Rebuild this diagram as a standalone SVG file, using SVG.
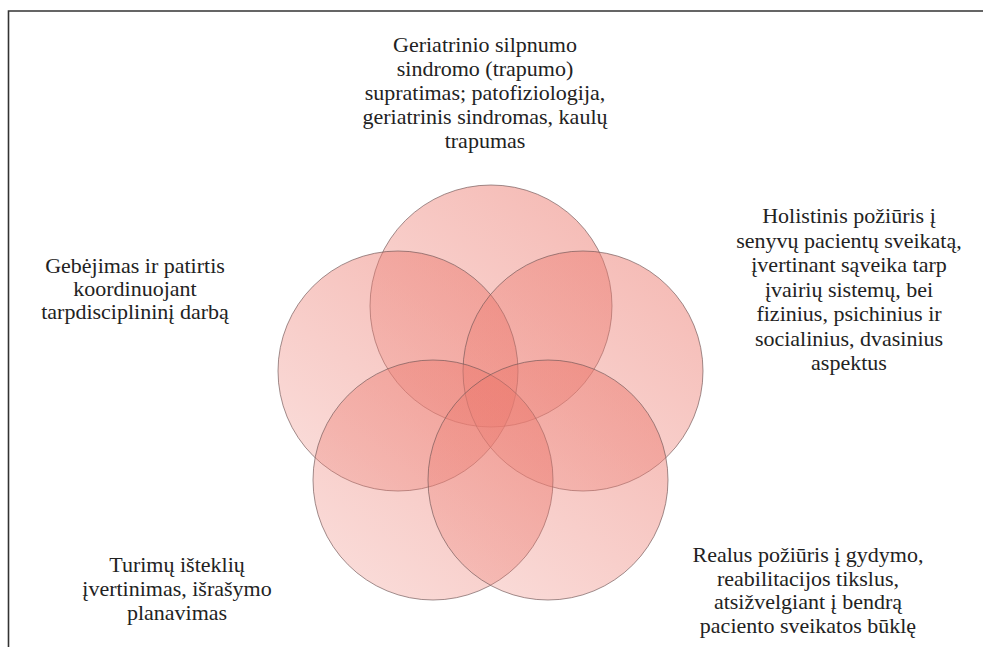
<svg xmlns="http://www.w3.org/2000/svg" width="983" height="647" viewBox="0 0 983 647">
<style>
.lbl{font-family:"Liberation Serif",Tinos,"Noto Serif","FreeSerif","DejaVu Serif",Times,"Times New Roman",serif;font-size:22px;fill:#222;text-anchor:middle}
.c{fill:url(#g);stroke:#6e5555;stroke-opacity:.65;stroke-width:1}
.frame{fill:none;stroke:#333;stroke-width:1.6}
</style>
<defs>
<linearGradient id="g" x1="0.8" y1="0.1" x2="0.2" y2="0.9">
<stop offset="0" stop-color="#ec7b70" stop-opacity="0.5"/>
<stop offset="1" stop-color="#ec7b70" stop-opacity="0.28"/>
</linearGradient>
</defs>
<rect width="983" height="647" fill="#fff"/>
<path class="frame" d="M8.5 647 V11 H983"/>
<g id="circles">
<g id="c-top"><circle class="c" cx="491" cy="306" r="121"/></g>
<g id="c-left"><circle class="c" cx="398" cy="371" r="120"/></g>
<g id="c-right"><circle class="c" cx="583" cy="371" r="120"/></g>
<g id="c-bl"><circle class="c" cx="433" cy="480" r="120"/></g>
<g id="c-br"><circle class="c" cx="548" cy="480" r="120"/></g>
</g>
<g id="connectors"></g>
<g id="t-top"><text class="lbl"><tspan x="485" y="52">Geriatrinio silpnumo</tspan><tspan x="485" y="76">sindromo (trapumo)</tspan><tspan x="485" y="100">supratimas; patofiziologija,</tspan><tspan x="485" y="124">geriatrinis sindromas, kaulų</tspan><tspan x="485" y="148">trapumas</tspan></text></g>
<g id="t-right"><text class="lbl"><tspan x="849" y="223">Holistinis požiūris į</tspan><tspan x="849" y="247.5">senyvų pacientų sveikatą,</tspan><tspan x="849" y="272">įvertinant sąveika tarp</tspan><tspan x="849" y="296.5">įvairių sistemų, bei</tspan><tspan x="849" y="321">fizinius, psichinius ir</tspan><tspan x="849" y="345.5">socialinius, dvasinius</tspan><tspan x="849" y="370">aspektus</tspan></text></g>
<g id="t-left"><text class="lbl"><tspan x="135" y="273">Gebėjimas ir patirtis</tspan><tspan x="135" y="296">koordinuojant</tspan><tspan x="135" y="319">tarpdisciplininį darbą</tspan></text></g>
<g id="t-bl"><text class="lbl"><tspan x="177" y="572">Turimų išteklių</tspan><tspan x="177" y="596">įvertinimas, išrašymo</tspan><tspan x="177" y="620">planavimas</tspan></text></g>
<g id="t-br"><text class="lbl"><tspan x="808" y="562">Realus požiūris į gydymo,</tspan><tspan x="808" y="585.5">reabilitacijos tikslus,</tspan><tspan x="808" y="609">atsižvelgiant į bendrą</tspan><tspan x="808" y="632.5">paciento sveikatos būklę</tspan></text></g>
</svg>
